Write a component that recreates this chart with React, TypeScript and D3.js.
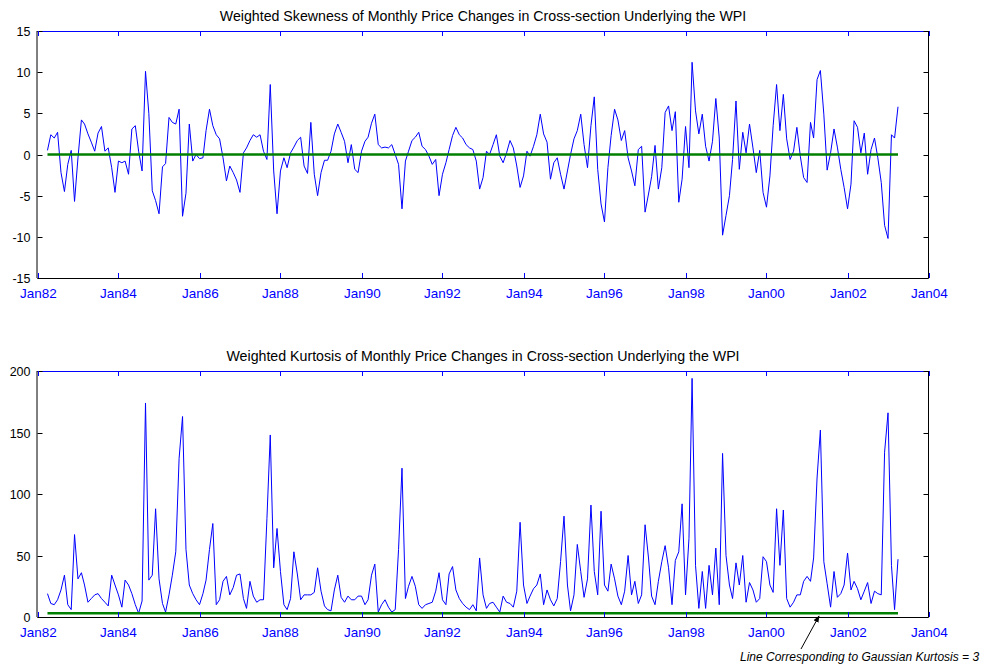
import React, { useEffect, useRef } from 'react';
import * as d3 from 'd3';

// monthly series, first observation Apr 1982
const startYear = 1982;
const startMonth = 3;

const skewness = [
  0.5, 2.4, 2.0, 2.7, -2.2, -4.5, -1.2, 0.5, -5.7,
  -0.4, 4.2, 3.7, 2.5, 1.5, 0.4, 2.6, 3.4, 0.4, 0.8, -1.6, -4.6,
  -0.8, -1.0, -0.8, -2.4, 3.1, 3.5, 0.4, -2.0, 10.1, 5.0, -4.4, -5.6,
  -7.2, -1.5, -1.1, 4.5, 3.9, 3.7, 5.5, -7.5, -4.7, 3.7, -0.8, 0,
  -0.5, -0.4, 2.9, 5.5, 3.5, 2.4, 1.9, -0.4, -3.2, -1.4, -2.2, -3.1,
  -4.6, 0.2, 0.8, 1.7, 2.4, 2.1, 2.4, 0.4, -0.6, 8.5, -2.0, -7.2,
  -2.0, -0.4, -1.6, 0.2, 0.9, 1.7, 2.1, -1.4, -2.3, 3.9, -2.4, -5.0,
  -2.2, -0.7, -0.7, 0.4, 2.5, 3.7, 2.7, 1.6, -1.0, 1.2, -1.8, -2.2,
  0.4, 1.6, 2.1, 3.8, 4.9, 1.2, 0.8, 0.9, 0.8, 1.2, 0, -1.2,
  -6.6, -0.8, 0.4, 1.7, 2.1, 2.7, 1.0, 0.6, -0.2, -1.2, -0.6, -5.0,
  -2.4, -1.0, 0.6, 2.3, 3.3, 2.4, 2.0, 1.2, 0.8, 0.6, -0.8, -4.2,
  -2.8, 0.4, 0, 1.2, 2.4, -0.2, -1.0, 0.2, 1.7, 0.8, -1.4, -4.0,
  -2.6, 0.4, -0.2, 1.0, 2.4, 4.9, 2.5, 1.5, -3.0, -1.0, -0.4, -2.4,
  -4.2, -2.0, 0, 1.9, 2.9, 4.9, 1.2, -1.6, 3.5, 7.0, -1.8, -6.0,
  -8.2, -1.6, 2.3, 5.5, 4.2, 1.7, 2.9, -0.4, -2.0, -3.8, 0.6, 1.0,
  -7.0, -4.8, -2.7, 1.1, -4.2, -1.6, 5.1, 5.9, 2.9, 5.2, -5.8, -3.0,
  3.4, -1.6, 11.2, 5.3, 2.5, 4.9, 1.0, -0.8, 1.6, 6.8, 2.0, -9.8,
  -7.4, -5.0, -0.6, 6.5, -1.8, 2.7, 0.2, 3.7, 0.8, -2.2, 0.5, -4.6,
  -6.4, -2.6, 3.5, 8.5, 2.9, 7.3, 1.9, -0.6, 0.4, 3.3, -0.2, -2.8,
  -3.4, 3.9, 2.0, 9.1, 10.2, 4.9, -1.9, 0.2, 3.1, 0.9, -1.8, -4.0,
  -6.6, -3.6, 4.1, 3.3, 0.2, 2.6, -2.4, 0.6, 2.0, -0.4, -3.4, -8.6,
  -10.2, 2.4, 2.0, 5.8,
];

const kurtosis = [
  19, 11, 10, 14, 22, 34, 10, 6, 67,
  31, 36, 26, 12, 15, 18, 19, 15, 12, 9, 34, 26,
  18, 8, 30, 26, 19, 10, 3, 13, 174, 30, 34, 88,
  31, 11, 4, 18, 34, 53, 129, 163, 55, 26, 19, 14,
  10, 19, 30, 55, 76, 10, 14, 29, 33, 18, 24, 34,
  35, 15, 7, 29, 17, 12, 14, 14, 80, 148, 40, 72,
  37, 10, 6, 15, 53, 35, 14, 18, 18, 18, 20, 40,
  21, 9, 6, 5, 22, 34, 16, 12, 17, 14, 14, 17,
  17, 10, 14, 34, 43, 4, 10, 14, 8, 4, 6, 55,
  121, 15, 25, 33, 25, 10, 7, 10, 11, 12, 21, 36,
  14, 10, 35, 41, 22, 15, 11, 8, 6, 10, 5, 48,
  18, 7, 11, 12, 8, 4, 17, 12, 11, 8, 21, 77,
  26, 11, 17, 23, 26, 35, 10, 22, 14, 9, 15, 45,
  82, 26, 5, 18, 59, 37, 16, 31, 91, 37, 18, 86,
  26, 21, 43, 31, 17, 10, 21, 50, 18, 29, 11, 18,
  75, 48, 17, 10, 29, 45, 58, 40, 10, 46, 53, 92,
  18, 64, 194, 42, 7, 37, 7, 42, 18, 56, 10, 133,
  50, 26, 15, 44, 26, 50, 12, 28, 22, 12, 15, 49,
  45, 26, 20, 88, 42, 87, 15, 8, 12, 18, 18, 29,
  33, 29, 48, 113, 152, 45, 27, 8, 37, 16, 19, 26,
  52, 22, 29, 23, 14, 21, 28, 11, 21, 19, 18, 134,
  166, 42, 6, 47,
];

const xTickYears = [1982, 1984, 1986, 1988, 1990, 1992, 1994, 1996, 1998, 2000, 2002, 2004];
const skewTicks = [-15, -10, -5, 0, 5, 10, 15];
const kurtTicks = [0, 50, 100, 150, 200];
const skewRefLevel = 0;
const kurtRefLevel = 3;

const skewTitle = 'Weighted Skewness of Monthly Price Changes in Cross-section Underlying the WPI';
const kurtTitle = 'Weighted Kurtosis of Monthly Price Changes in Cross-section Underlying the WPI';
const noteText = 'Line Corresponding to Gaussian Kurtosis = 3';

const FONT = '"Liberation Sans", Arial, sans-serif';
const BLUE = '#0000ff';

const App: React.FC = () => {
  const svgRef = useRef<SVGSVGElement | null>(null);

  useEffect(() => {
    if (!svgRef.current) return;
    const svg = d3.select(svgRef.current);
    svg.selectAll('*').remove();

    const left = 37.5;
    const right = 928.5;

    const x = d3.scaleTime()
      .domain([new Date(1982, 0, 1), new Date(2004, 0, 1)])
      .range([left, right]);

    const dateOf = (i: number) => new Date(startYear, startMonth + i, 1);

    const drawPanel = (
      values: number[],
      ticks: number[],
      refLevel: number,
      top: number,
      bottom: number,
      title: string,
    ) => {
      const y = d3.scaleLinear()
        .domain([ticks[0], ticks[ticks.length - 1]])
        .range([bottom, top]);

      const g = svg.append('g');

      g.append('rect')
        .attr('x', left).attr('y', top)
        .attr('width', right - left).attr('height', bottom - top)
        .attr('fill', '#fff');

      // data line
      const line = d3.line<number>()
        .x((_, i) => x(dateOf(i)))
        .y(d => y(d));

      g.append('path')
        .datum(values)
        .attr('fill', 'none')
        .attr('stroke', BLUE)
        .attr('stroke-width', 1)
        .attr('d', line);

      // reference line
      g.append('line')
        .attr('x1', x(dateOf(0))).attr('x2', x(dateOf(values.length - 1)))
        .attr('y1', y(refLevel)).attr('y2', y(refLevel))
        .attr('stroke', '#008000')
        .attr('stroke-width', 2.5);

      // frame
      g.append('line').attr('x1', left).attr('x2', right).attr('y1', top + 0.5).attr('y2', top + 0.5)
        .attr('stroke', BLUE);
      g.append('line').attr('x1', left).attr('x2', right).attr('y1', bottom + 0.5).attr('y2', bottom + 0.5)
        .attr('stroke', '#000');
      g.append('line').attr('x1', left - 0.5).attr('x2', left - 0.5).attr('y1', top).attr('y2', bottom)
        .attr('stroke', '#000');
      g.append('line').attr('x1', right).attr('x2', right).attr('y1', top).attr('y2', bottom)
        .attr('stroke', '#000');

      // y ticks
      ticks.forEach(t => {
        const yy = Math.round(y(t)) + 0.5;
        g.append('line').attr('x1', left).attr('x2', left + 5).attr('y1', yy).attr('y2', yy).attr('stroke', '#000');
        g.append('line').attr('x1', right - 5).attr('x2', right).attr('y1', yy).attr('y2', yy).attr('stroke', '#000');
        g.append('text')
          .attr('x', left - 7)
          .attr('y', yy + 4.5)
          .attr('text-anchor', 'end')
          .attr('font-family', FONT)
          .attr('font-size', 12.5)
          .attr('fill', '#000')
          .text(String(t));
      });

      // x ticks
      xTickYears.forEach(yr => {
        const xx = Math.round(x(new Date(yr, 0, 1))) + 0.5;
        g.append('line').attr('x1', xx).attr('x2', xx).attr('y1', bottom).attr('y2', bottom - 5).attr('stroke', BLUE);
        g.append('line').attr('x1', xx).attr('x2', xx).attr('y1', top).attr('y2', top + 5).attr('stroke', BLUE);
        g.append('text')
          .attr('x', xx)
          .attr('y', bottom + 20)
          .attr('text-anchor', 'middle')
          .attr('font-family', FONT)
          .attr('font-size', 13.5)
          .attr('fill', BLUE)
          .text('Jan' + String(yr).slice(2));
      });

      g.append('text')
        .attr('x', (left + right) / 2)
        .attr('y', top - 10)
        .attr('text-anchor', 'middle')
        .attr('font-family', FONT)
        .attr('font-size', 14.2)
        .attr('fill', '#000')
        .text(title);
    };

    drawPanel(skewness, skewTicks, skewRefLevel, 31, 278, skewTitle);
    drawPanel(kurtosis, kurtTicks, kurtRefLevel, 371, 617, kurtTitle);

    // annotation
    const defs = svg.append('defs');
    defs.append('marker')
      .attr('id', 'arrowhead')
      .attr('viewBox', '0 0 10 10')
      .attr('refX', 9).attr('refY', 5)
      .attr('markerWidth', 7).attr('markerHeight', 7)
      .attr('orient', 'auto')
      .append('path')
      .attr('d', 'M0,1 L10,5 L0,9 Z')
      .attr('fill', '#000');

    svg.append('line')
      .attr('x1', 801).attr('y1', 649)
      .attr('x2', 819).attr('y2', 616)
      .attr('stroke', '#000')
      .attr('stroke-width', 1)
      .attr('marker-end', 'url(#arrowhead)');

    svg.append('text')
      .attr('x', 740)
      .attr('y', 661)
      .attr('font-family', FONT)
      .attr('font-size', 12)
      .attr('font-style', 'italic')
      .attr('fill', '#000')
      .text(noteText);
  }, []);

  return (
    <svg
      ref={svgRef}
      width={991}
      height={664}
      style={{ position: 'absolute', left: 0, top: 0, background: '#fff' }}
    />
  );
};

export default App;
